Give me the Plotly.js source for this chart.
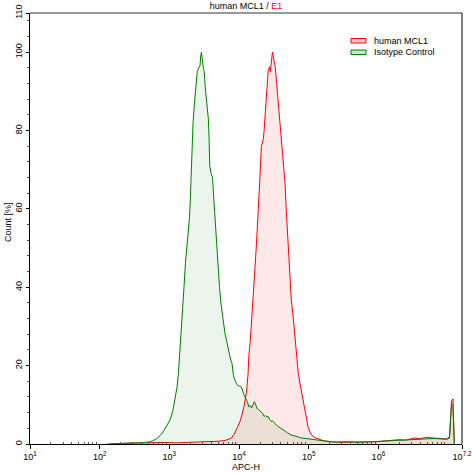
<!DOCTYPE html>
<html>
<head>
<meta charset="utf-8">
<script src="https://cdn.plot.ly/plotly-3.0.1.min.js"></script>
<style>html,body{margin:0;padding:0;background:#fff;}#chart{width:472px;height:474px;}</style>
</head>
<body>
<div id="chart"></div>
<script>
// APC-H positions given as log10 exponents, counts in % of max
const mclLogX = [2.15,2.30,2.50,2.70,2.90,3.10,3.30,3.50,3.70,3.80,3.85,3.89,3.93,3.96,3.99,4.02,4.05,4.07,4.09,4.11,4.13,4.14,4.16,4.18,4.20,4.22,4.23,4.25,4.27,4.28,4.30,4.32,4.34,4.35,4.36,4.37,4.39,4.41,4.42,4.44,4.45,4.47,4.48,4.50,4.52,4.54,4.56,4.58,4.61,4.63,4.66,4.68,4.71,4.73,4.75,4.78,4.80,4.83,4.85,4.88,4.90,4.93,4.95,4.97,4.99,5.02,5.04,5.09,5.14,5.20,5.30,5.40,5.50,5.60,5.70,5.80,5.90,6.00,6.10,6.20,6.30,6.40,6.50,6.60,6.70,6.80,6.90,6.98,7.02,7.05,7.07,7.09];
const mclCount = [0.0,0.2,0.3,0.3,0.4,0.3,0.4,0.5,0.7,0.9,1.2,1.5,2.5,3.5,4.8,6.0,8.0,9.5,11.5,13.8,18,22.3,26,30.8,36,41,45.3,51,57,60.6,68,75.9,77.5,78,80,83.5,88,93,95.5,96.3,95,98.5,100,98,96.3,92,87.8,83,77.6,73,66.6,59,49.5,42,36.8,32,28.3,22,18.0,15,12.9,10.5,8.7,6.5,4.4,3.0,2.3,1.6,1.2,0.9,0.6,0.5,0.4,0.5,0.5,0.5,0.6,0.6,0.8,1.0,1.1,1.0,1.5,1.4,1.7,1.5,1.4,1.3,1.8,11.0,11.5,0.0];

const isoLogX = [2.10,2.30,2.50,2.60,2.70,2.76,2.82,2.87,2.91,2.96,3.01,3.05,3.08,3.11,3.13,3.15,3.17,3.19,3.21,3.23,3.25,3.27,3.29,3.30,3.31,3.32,3.33,3.34,3.36,3.38,3.40,3.42,3.44,3.45,3.46,3.48,3.50,3.52,3.54,3.56,3.57,3.58,3.60,3.62,3.64,3.66,3.68,3.70,3.72,3.74,3.76,3.78,3.80,3.82,3.84,3.86,3.88,3.90,3.92,3.94,3.96,3.99,4.02,4.04,4.06,4.08,4.10,4.12,4.14,4.16,4.18,4.20,4.22,4.24,4.26,4.28,4.30,4.32,4.34,4.36,4.38,4.40,4.42,4.44,4.46,4.48,4.50,4.52,4.55,4.58,4.61,4.64,4.67,4.70,4.73,4.76,4.80,4.84,4.88,4.92,4.96,5.00,5.05,5.10,5.15,5.20,5.30,5.40,5.50,5.60,5.70,5.80,5.90,6.00,6.10,6.20,6.30,6.40,6.50,6.60,6.70,6.80,6.90,6.98,7.02,7.05,7.07,7.09];
const isoCount = [0.0,0.1,0.2,0.3,0.5,0.8,1.4,2.2,3.1,4.5,6.1,8.5,11.2,14.5,18.0,23,28,33,40,46,50,53,58,62,68,73,78,82,87,90.5,95,96,96.5,99,100,97,95,90,86,83,78,71,69,68,62,56,50,45,40,36,33,30,28,26.5,24.5,22.5,21.5,20.5,17.5,16.3,15.5,14.8,14.8,14.3,13,12.1,11.5,10.8,9.5,9.8,9.2,10.2,10.8,10.0,9.0,8.8,8.5,8.0,7.8,7.0,7.3,6.9,7.0,6.2,5.8,5.9,5.4,5.2,4.6,4.3,4.0,3.5,3.2,2.8,2.5,2.2,2.1,1.8,1.6,1.5,1.4,1.3,1.2,1.1,1.0,0.9,0.6,0.5,0.5,0.6,0.4,0.5,0.6,0.7,0.8,0.9,1.0,1.1,1.2,1.3,1.4,1.4,1.3,1.2,1.5,10.0,10.2,0.0];

const seriesNames = ['human MCL1', 'Isotype Control'];
const xTickExp = [1, 2, 3, 4, 5, 6, 7.2];
const xTickText = ['10<sup>1</sup>','10<sup>2</sup>','10<sup>3</sup>','10<sup>4</sup>','10<sup>5</sup>','10<sup>6</sup>','10<sup>7.2</sup>'];
const yTickVals = [0, 20, 40, 60, 80, 100, 110];

const pow = a => a.map(v => Math.pow(10, v));
const minorX = [];
for (let d = 1; d <= 7; d++) for (let m = 2; m <= 9; m++) { const v = Math.log10(m) + d; if (v < 7.2) minorX.push(Math.pow(10, v)); }

const FONT = 'Liberation Sans, Arial, sans-serif';

const traces = [
  {x: pow(mclLogX), y: mclCount, type: 'scatter', mode: 'lines', name: seriesNames[0],
   line: {color: '#ff0000', width: 1}, fill: 'tozeroy', fillcolor: 'rgba(255,0,0,0.09)', showlegend: false},
  {x: pow(isoLogX), y: isoCount, type: 'scatter', mode: 'lines', name: seriesNames[1],
   line: {color: '#008000', width: 1}, fill: 'tozeroy', fillcolor: 'rgba(0,128,0,0.08)', showlegend: false}
];

const px = v => (v - 30) / 432;
const py = v => (444 - v) / 431;

const layout = {
  width: 472, height: 474,
  margin: {l: 30, r: 10, t: 13, b: 30, pad: 0},
  paper_bgcolor: '#fff', plot_bgcolor: '#fff',
  font: {family: FONT, size: 9, color: '#000'},
  title: {text: 'human MCL1 / <span style="color:#ff0000">E1</span>', font: {family: FONT, size: 9, color: '#000'},
          x: 0.5, xref: 'paper', xanchor: 'center', y: 1 - 5.5/474, yref: 'container', yanchor: 'middle'},
  xaxis: {type: 'log', range: [1, 7.2], tickmode: 'array', tickvals: pow(xTickExp), ticktext: xTickText,
          showgrid: false, zeroline: false, showline: true, linecolor: '#000', linewidth: 1,
          ticks: 'outside', ticklen: 4, tickcolor: '#000', tickfont: {family: FONT, size: 9, color: '#000'},
          minor: {tickmode: 'array', tickvals: minorX, ticks: 'inside', ticklen: 2, tickcolor: '#555', showgrid: false},
          fixedrange: true},
  yaxis: {range: [0, 110], tickmode: 'array', tickvals: yTickVals, tickangle: -90,
          showgrid: false, zeroline: false, showline: true, linecolor: '#000', linewidth: 1,
          ticks: 'outside', ticklen: 3, tickcolor: '#000', tickfont: {family: FONT, size: 9, color: '#000'},
          minor: {dtick: 4, tick0: 0, ticks: 'outside', ticklen: 2, tickcolor: '#555', showgrid: false},
          fixedrange: true},
  shapes: [
    {type: 'line', xref: 'paper', yref: 'paper', x0: 0, x1: 1, y0: 1, y1: 1, line: {color: '#999', width: 2}},
    {type: 'line', xref: 'paper', yref: 'paper', x0: 1, x1: 1, y0: 0, y1: 1, line: {color: '#000', width: 1}},
    {type: 'rect', xref: 'paper', yref: 'paper', x0: px(351), x1: px(366), y0: py(43), y1: py(38.5),
     line: {color: '#ff0000', width: 1}, fillcolor: '#ffc8c8'},
    {type: 'rect', xref: 'paper', yref: 'paper', x0: px(351), x1: px(366), y0: py(54.5), y1: py(50),
     line: {color: '#008000', width: 1}, fillcolor: '#c8e6c8'}
  ],
  annotations: [
    {text: seriesNames[0], xref: 'paper', yref: 'paper', x: px(372), y: py(40.8), xanchor: 'left', yanchor: 'middle', showarrow: false, font: {family: FONT, size: 9, color: '#000'}},
    {text: seriesNames[1], xref: 'paper', yref: 'paper', x: px(372), y: py(52.2), xanchor: 'left', yanchor: 'middle', showarrow: false, font: {family: FONT, size: 9, color: '#000'}},
    {text: 'Count [%]', xref: 'paper', yref: 'paper', x: px(8), y: py(222), xanchor: 'center', yanchor: 'middle', textangle: -90, showarrow: false, font: {family: FONT, size: 9, color: '#000'}},
    {text: 'APC-H', xref: 'paper', yref: 'paper', x: px(246), y: py(467), xanchor: 'center', yanchor: 'middle', showarrow: false, font: {family: FONT, size: 9, color: '#000'}}
  ],
  showlegend: false
};

Plotly.newPlot('chart', traces, layout, {displayModeBar: false, staticPlot: true});
</script>
</body>
</html>
